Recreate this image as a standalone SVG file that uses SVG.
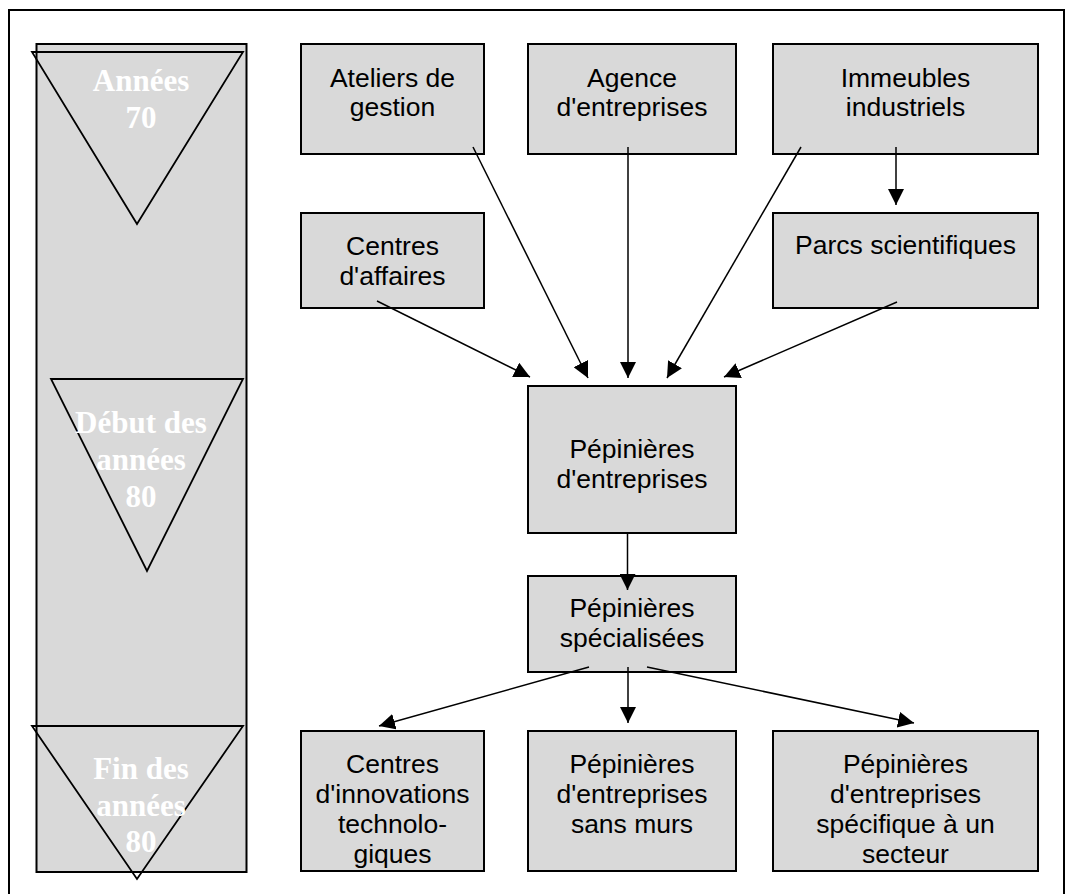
<svg xmlns="http://www.w3.org/2000/svg" width="1066" height="894" viewBox="0 0 1066 894">
  <style>
    .box { fill: #d9d9d9; stroke: #000; stroke-width: 2; }
    .lbl { font-family: "Liberation Sans", Arial, sans-serif; font-size: 26.5px; fill: #000; text-anchor: middle; }
    .era { font-family: "Liberation Serif", "Times New Roman", serif; font-size: 31px; font-weight: bold; fill: #fff; text-anchor: middle; }
    .tri { fill: none; stroke: #000; stroke-width: 1.8; }
    .conn line { stroke: #000; stroke-width: 1.5; marker-end: url(#arrow); }
  </style>
  <defs>
    <marker id="arrow" viewBox="0 0 16 16" refX="16" refY="8" markerWidth="16" markerHeight="16" markerUnits="userSpaceOnUse" orient="auto">
      <path d="M0,0 L16,8 L0,16 z" fill="#000"/>
    </marker>
  </defs>

  <rect width="1066" height="894" fill="#fff"/>
  <!-- outer frame -->
  <rect x="9" y="10" width="1055" height="900" fill="none" stroke="#000" stroke-width="2"/>

  <!-- timeline column with period markers -->
  <g id="timeline">
    <rect x="36.5" y="44" width="210" height="828" class="box"/>
    <g id="era-70">
      <polygon class="tri" points="32,52 243,52 137,224"/>
      <text class="era" x="141" y="91">Années</text>
      <text class="era" x="141" y="128">70</text>
    </g>
    <g id="era-debut-80">
      <polygon class="tri" points="51,379 243,379 147,571"/>
      <text class="era" x="141" y="433">Début des</text>
      <text class="era" x="141" y="470">années</text>
      <text class="era" x="141" y="507">80</text>
    </g>
    <g id="era-fin-80">
      <polygon class="tri" points="32,726 243,726 137,879"/>
      <text class="era" x="141" y="779">Fin des</text>
      <text class="era" x="141" y="816">années</text>
      <text class="era" x="141" y="852">80</text>
    </g>
  </g>

  <g id="ateliers">
    <rect class="box" x="301" y="44" width="183" height="110"/>
    <text class="lbl" x="392.5" y="87">Ateliers de</text>
    <text class="lbl" x="392.5" y="116">gestion</text>
  </g>
  <g id="agence">
    <rect class="box" x="528" y="44" width="208" height="110"/>
    <text class="lbl" x="632" y="87">Agence</text>
    <text class="lbl" x="632" y="116">d'entreprises</text>
  </g>
  <g id="immeubles">
    <rect class="box" x="773" y="44" width="265" height="110"/>
    <text class="lbl" x="905.5" y="87">Immeubles</text>
    <text class="lbl" x="905.5" y="116">industriels</text>
  </g>
  <g id="centres-affaires">
    <rect class="box" x="301" y="213" width="183" height="95"/>
    <text class="lbl" x="392.5" y="255">Centres</text>
    <text class="lbl" x="392.5" y="285">d'affaires</text>
  </g>
  <g id="parcs">
    <rect class="box" x="773" y="213" width="265" height="95"/>
    <text class="lbl" x="905.5" y="254">Parcs scientifiques</text>
  </g>
  <g id="pepinieres">
    <rect class="box" x="528" y="386" width="208" height="147"/>
    <text class="lbl" x="632" y="458">Pépinières</text>
    <text class="lbl" x="632" y="488">d'entreprises</text>
  </g>
  <g id="specialisees">
    <rect class="box" x="528" y="576" width="208" height="96"/>
    <text class="lbl" x="632" y="617">Pépinières</text>
    <text class="lbl" x="632" y="647">spécialisées</text>
  </g>
  <g id="innovations">
    <rect class="box" x="301" y="731" width="183" height="140"/>
    <text class="lbl" x="392.5" y="773">Centres</text>
    <text class="lbl" x="392.5" y="803">d'innovations</text>
    <text class="lbl" x="392.5" y="833">technolo-</text>
    <text class="lbl" x="392.5" y="863">giques</text>
  </g>
  <g id="sans-murs">
    <rect class="box" x="528" y="731" width="208" height="140"/>
    <text class="lbl" x="632" y="773">Pépinières</text>
    <text class="lbl" x="632" y="803">d'entreprises</text>
    <text class="lbl" x="632" y="833">sans murs</text>
  </g>
  <g id="specifique">
    <rect class="box" x="773" y="731" width="265" height="140"/>
    <text class="lbl" x="905.5" y="773">Pépinières</text>
    <text class="lbl" x="905.5" y="803">d'entreprises</text>
    <text class="lbl" x="905.5" y="833">spécifique à un</text>
    <text class="lbl" x="905.5" y="863">secteur</text>
  </g>

  <g id="connectors" class="conn">
    <line x1="473" y1="147" x2="588" y2="378"/>
    <line x1="628" y1="147" x2="628" y2="378"/>
    <line x1="801" y1="147" x2="667" y2="378"/>
    <line x1="896" y1="147" x2="896" y2="205"/>
    <line x1="377" y1="301" x2="530" y2="377"/>
    <line x1="897" y1="302" x2="724" y2="377"/>
    <line x1="627.5" y1="532" x2="627.5" y2="590"/>
    <line x1="589" y1="667" x2="379" y2="726"/>
    <line x1="628" y1="667" x2="628" y2="723"/>
    <line x1="647" y1="667" x2="914" y2="723"/>
  </g>
</svg>
